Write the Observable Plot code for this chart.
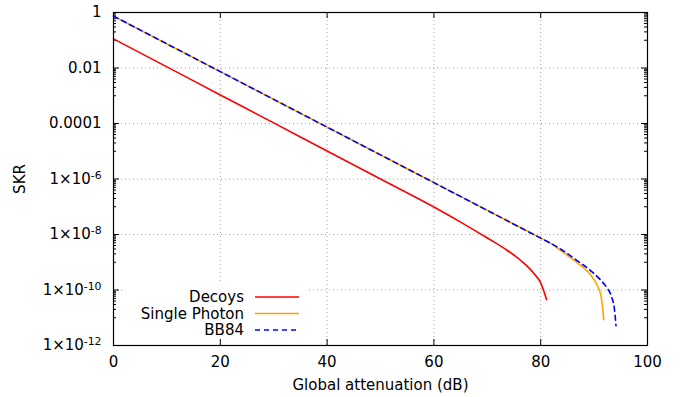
<!DOCTYPE html>
<html><head><meta charset="utf-8">
<script src="https://cdn.jsdelivr.net/npm/d3@7"></script>
<script src="https://cdn.jsdelivr.net/npm/@observablehq/plot@0.6"></script>
<style>body{margin:0;background:#fff}</style>
</head><body><div id="chart"></div>
<script>
// Data
const decoysX = [0, 10, 20, 30, 40, 50, 60, 65, 70, 73.7, 76.8, 78.7, 80, 81.1];
const decoysY = [0.112, 0.0110, 1.07e-3, 1.05e-4, 1.02e-5, 1.0e-6, 9.8e-8, 2.8e-8, 7.5e-9, 2.7e-9, 9.5e-10, 4.0e-10, 1.8e-10, 4.5e-11];
const singleX = [0, 10, 20, 30, 40, 50, 60, 70, 80, 82, 83.7, 85.5, 87.5, 89.3, 90.6, 91.2, 91.6, 91.8];
const singleY = [0.74, 0.074, 7.4e-3, 7.4e-4, 7.4e-5, 7.4e-6, 7.4e-7, 7.4e-8, 7.4e-9, 4.6e-9, 2.7e-9, 1.5e-9, 7.6e-10, 3.6e-10, 1.45e-10, 7.2e-11, 2.4e-11, 8.5e-12];
const bb84X = [0, 10, 20, 30, 40, 50, 60, 70, 80, 82, 83.7, 86.8, 89.8, 91.2, 92.4, 93.3, 93.8, 94.1];
const bb84Y = [0.74, 0.074, 7.4e-3, 7.4e-4, 7.4e-5, 7.4e-6, 7.4e-7, 7.4e-8, 7.4e-9, 4.7e-9, 3.0e-9, 1.15e-9, 4.2e-10, 2.3e-10, 1.2e-10, 5.5e-11, 2.1e-11, 5.2e-12];
const xTicks = [0, 20, 40, 60, 80, 100];
const yTicks = [1, 1e-2, 1e-4, 1e-6, 1e-8, 1e-10, 1e-12];
const yTickLabels = ["1", "0.01", "0.0001", "1×10|-6", "1×10|-8", "1×10|-10", "1×10|-12"];
const seriesNames = ["Decoys", "Single Photon", "BB84"];
const seriesColors = ["#ff0000", "#ffa500", "#0000ff"];

const minorY = [];
for (const e of [-11, -9, -7, -5, -3, -1]) for (let k = 1; k <= 9; k++) minorY.push(k * Math.pow(10, e));

const toRows = (xs, ys) => xs.map((x, i) => ({x, y: ys[i]}));
const decoys = toRows(decoysX, decoysY);
const single = toRows(singleX, singleY);
const bb84 = toRows(bb84X, bb84Y);

const W = 697, H = 397, ML = 113, MR = 50, MT = 12, MB = 52;
const iw = W - ML - MR, ih = H - MT - MB;
const FS = 15;
const gridStyle = {stroke: "#a0a0a0", strokeOpacity: 1, strokeDasharray: "1,3", strokeWidth: 1};

const chart = Plot.plot({
  width: W, height: H, marginLeft: ML, marginRight: MR, marginTop: MT, marginBottom: MB,
  style: {fontFamily: "DejaVu Sans", fontSize: FS + "px", background: "white", color: "black"},
  x: {domain: [0, 100]},
  y: {type: "log", domain: [1e-12, 1]},
  marks: [
    Plot.gridX(xTicks.slice(1, -1), gridStyle),
    Plot.gridY(yTicks.slice(1, -1), gridStyle),
    Plot.axisX(xTicks, {tickSize: 0, tickPadding: 11, label: "Global attenuation (dB)", labelArrow: "none", labelAnchor: "center", labelOffset: 44}),
    Plot.axisY(yTicks, {tickSize: 0, tickPadding: 12, tickFormat: (d) => yTickLabels[yTicks.indexOf(d)], label: "SKR", labelArrow: "none", labelAnchor: "center", labelOffset: 99}),
    // inward ticks on all four sides
    Plot.tickX(xTicks, {x: d => d, insetTop: ih - 6, stroke: "black"}),
    Plot.tickX(xTicks, {x: d => d, insetBottom: ih - 6, stroke: "black"}),
    Plot.tickY(yTicks, {y: d => d, insetRight: iw - 6, stroke: "black"}),
    Plot.tickY(yTicks, {y: d => d, insetLeft: iw - 6, stroke: "black"}),
    Plot.tickY(minorY, {y: d => d, insetRight: iw - 3, stroke: "black"}),
    Plot.tickY(minorY, {y: d => d, insetLeft: iw - 3, stroke: "black"}),
    Plot.line(decoys, {x: "x", y: "y", stroke: seriesColors[0], strokeWidth: 1.6, curve: "monotone-x"}),
    Plot.line(single, {x: "x", y: "y", stroke: seriesColors[1], strokeWidth: 1.6, curve: "monotone-x"}),
    Plot.line(bb84, {x: "x", y: "y", stroke: seriesColors[2], strokeWidth: 1.6, strokeDasharray: "5,4", curve: "monotone-x"}),
    Plot.frame({stroke: "black", strokeWidth: 1.2})
  ]
});
document.getElementById("chart").appendChild(chart);

const svg = d3.select(chart);
// strip any label arrows (older Plot versions)
svg.selectAll('g[aria-label="x-axis label"] text, g[aria-label="y-axis label"] text').each(function () {
  this.textContent = this.textContent.replace(/\s*[→↑←↓]\s*/g, "");
});
// superscript exponents in y tick labels
svg.selectAll('g[aria-label="y-axis tick label"] text').each(function () {
  const t = this.textContent;
  if (t.includes("|")) {
    const [base, exp] = t.split("|");
    const sel = d3.select(this);
    sel.text(null);
    sel.append("tspan").text(base);
    sel.append("tspan").attr("dy", "-0.45em").attr("font-size", "0.72em").text(exp);
  }
});

// gnuplot-style key (opaque box) inside the plot area
const key = svg.append("g").attr("font-family", "DejaVu Sans").attr("font-size", FS);
key.append("rect").attr("x", 122).attr("y", 282).attr("width", 186).attr("height", 57).attr("fill", "white");
const rowsY = [297, 313.5, 330];
seriesNames.forEach((name, i) => {
  key.append("text").attr("x", 244).attr("y", rowsY[i]).attr("dy", "0.35em").attr("text-anchor", "end").attr("fill", "black").text(name);
  const ln = key.append("line").attr("x1", 255).attr("x2", 299).attr("y1", rowsY[i]).attr("y2", rowsY[i])
    .attr("stroke", seriesColors[i]).attr("stroke-width", 1.6);
  if (i === 2) ln.attr("stroke-dasharray", "5,4");
});
</script>
</body></html>
